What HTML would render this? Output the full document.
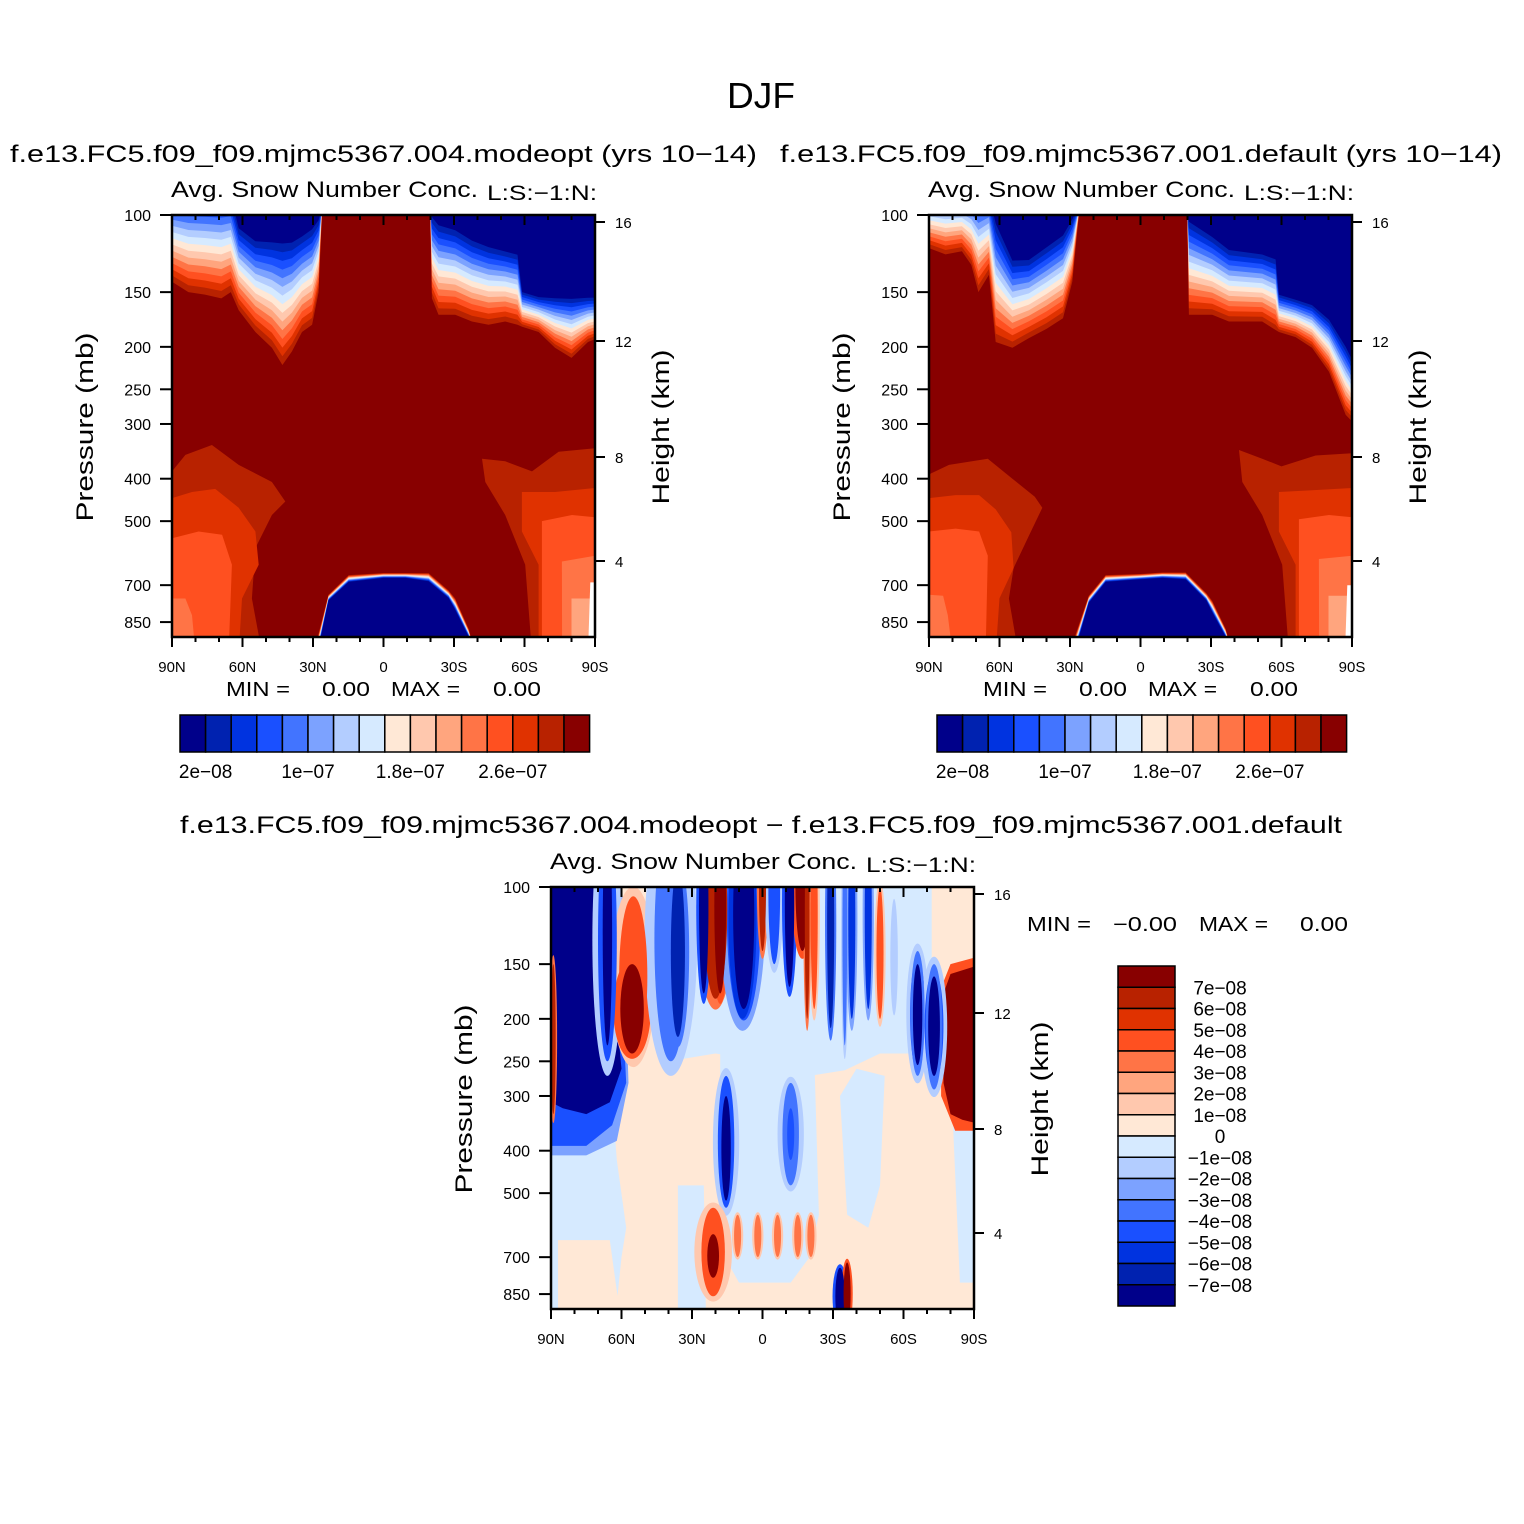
<!DOCTYPE html>
<html><head><meta charset="utf-8">
<style>
html,body{margin:0;padding:0;background:#fff;}
svg{display:block;font-family:"Liberation Sans",sans-serif;}
text{fill:#000;white-space:pre;}
</style></head>
<body>
<svg id="fig" width="1524" height="1524" viewBox="0 0 1524 1524" xmlns="http://www.w3.org/2000/svg">
<rect width="1524" height="1524" fill="#fff"/>
<text x="727" y="108" font-size="36" textLength="68" lengthAdjust="spacingAndGlyphs">DJF</text>
<text x="10" y="162" font-size="24" textLength="747" lengthAdjust="spacingAndGlyphs">f.e13.FC5.f09_f09.mjmc5367.004.modeopt (yrs 10−14)</text>
<text x="780" y="162" font-size="24" textLength="722" lengthAdjust="spacingAndGlyphs">f.e13.FC5.f09_f09.mjmc5367.001.default (yrs 10−14)</text>
<text x="180" y="833" font-size="24" textLength="1162" lengthAdjust="spacingAndGlyphs">f.e13.FC5.f09_f09.mjmc5367.004.modeopt − f.e13.FC5.f09_f09.mjmc5367.001.default</text>
<g id="layer"></g>
</svg>
<script>
const NS="http://www.w3.org/2000/svg";
const COLORS=["#00008a","#0022b0","#0033e0","#1a50ff","#4274ff","#7ca2ff","#b3cdff","#d6eaff","#ffe8d6","#ffc8ae","#ffa57e","#ff7446","#ff5020","#e03200","#b82200","#880000"];
const cbarLabelsTop=["2e−08","1e−07","1.8e−07","2.6e−07"];
const cbarLabelIdxTop=[1,5,9,13];
const cbarLabelsDiff=["7e−08","6e−08","5e−08","4e−08","3e−08","2e−08","1e−08","0","−1e−08","−2e−08","−3e−08","−4e−08","−5e−08","−6e−08","−7e−08"];
const latTicks=[90,60,30,0,-30,-60,-90];
const latTickLabels=["90N","60N","30N","0","30S","60S","90S"];
const presTicks=[100,150,200,250,300,400,500,700,850];
const heightTicks=[16,12,8,4];
const heightTickOffsets=[7,126,242,346];

// ---- Panel 1 data (lat, pressure mb) ----
const p1TLlat=[90,83,76,69,65,61.6,54.5,47.5,43,39,34.7,30.4,27.6,26.2];
const p1TLouter=[142,150,152,155,150,165,185,201,220,205,185,178,150,100];
const p1TLinner=[87,87,87,87,87,104,111,111,111,111,108,104,100,95];
const p1TRlat=[-19.9,-20.6,-23.4,-30.5,-37.6,-44.7,-51.8,-57,-59,-66,-73,-80,-87,-90];
const p1TRouter=[100,155,169,169,175,178,175,178,180,185,201,212,195,192];
const p1TRinner=[95,98,102,105,111,115,118,120,148,152,152,152,152,152];
const p1Dlat=[31,28,23.4,14.8,0,-9.3,-19.2,-27.7,-30.5,-36.2,-39];
const p1Douter=[1000,920,736,664,657,657,657,720,751,880,1000];
const p1Dinner=[1000,1000,760,690,675,675,688,751,800,920,1000];
const p1Bands=[
 [14,[[90,385],[84.3,353],[73,335],[61.6,372],[47.5,407],[41.8,451],[47.5,484],[54.5,576],[56,751],[51.7,1000],[90,1000]]],
 [13,[[90,443],[81.5,429],[71.6,422],[61.6,466],[54.5,528],[53.1,629],[60.2,751],[61.6,1000],[90,1000]]],
 [12,[[90,547],[78.7,528],[68.7,537],[64.5,629],[65.9,1000],[90,1000]]],
 [11,[[90,751],[84.3,751],[81.5,820],[80,1000],[90,1000]]],
 [14,[[-41.9,360],[-51.8,365],[-63.2,385],[-74.5,347],[-90,341],[-90,1000],[-63.2,1000],[-60.3,629],[-51.8,484],[-43.3,407]]],
 [13,[[-58.9,429],[-73,429],[-90,420],[-90,1000],[-66,1000],[-66,629],[-58.9,528]]],
 [12,[[-67.4,500],[-80.2,484],[-90,490],[-90,1000],[-67.4,1000]]],
 [11,[[-75.9,618],[-90,600],[-90,1000],[-76,1000]]],
 [10,[[-80,751],[-90,751],[-90,1000],[-80,1000]]],
 [-1,[[-88,690],[-90,690],[-90,1000],[-87,1000]]]
];
// ---- Panel 2 data ----
const p2TLlat=[90,83,76,72,69,64.5,61.6,54.5,47.5,40,33,29,26.2];
const p2TLouter=[119,123,121,130,150,137,195,201,191,182,172,142,100];
const p2TLinner=[87,87,87,87,87,87,100,123,123,115,108,100,95];
const p2TRlat=[-19.9,-20.6,-30.5,-37.6,-51.8,-57.5,-58.9,-66,-73,-80.2,-87.3,-90];
const p2TRouter=[100,169,169,175,175,183,185,190,201,228,286,296];
const p2TRinner=[95,100,109,117,120,123,150,154,158,170,195,209];
const p2Dlat=[31,28,22,14.8,0,-9.3,-19.2,-28,-30.5,-36.2,-39];
const p2Douter=[1000,920,740,664,660,655,655,730,760,880,1000];
const p2Dinner=[1000,1000,770,690,680,675,680,760,810,920,1000];
const p2Bands=[
 [14,[[90,391],[81.5,372],[65,360],[54.5,400],[45,440],[41.8,466],[47.5,540],[54,640],[56,751],[52,1000],[90,1000]]],
 [13,[[90,443],[78.7,436],[68.7,436],[61.6,470],[55,530],[54,640],[60,750],[61.6,1000],[90,1000]]],
 [12,[[90,528],[78.7,520],[68.7,528],[65,600],[65.9,1000],[90,1000]]],
 [11,[[90,736],[84,740],[82,820],[80,1000],[90,1000]]],
 [14,[[-41.9,344],[-51.8,360],[-60,375],[-74.5,354],[-90,350],[-90,1000],[-63.2,1000],[-60.3,629],[-51.8,484],[-43.3,407]]],
 [13,[[-58.9,429],[-73,425],[-90,420],[-90,1000],[-66,1000],[-66,629],[-58.9,528]]],
 [12,[[-67.4,495],[-80.2,484],[-90,490],[-90,1000],[-67.4,1000]]],
 [11,[[-75.9,610],[-90,600],[-90,1000],[-76,1000]]],
 [10,[[-80,740],[-90,740],[-90,1000],[-80,1000]]],
 [-1,[[-88,700],[-90,700],[-90,1000],[-87,1000]]]
];
// ---- Panel 3 (difference) data ----
const diffPolys=[
 [7,[[90,300],[64,300],[62,420],[58,600],[60,700],[63,1000],[90,1000]]],
 [8,[[87,640],[65,640],[60,1000],[87,1000]]],
 [7,[[42,90],[-72,90],[-72,240],[-50,240],[-35,262],[-20,270],[0,250],[20,240],[40,250]]],
 [7,[[18,240],[-22,240],[-24,560],[-20,700],[-12,800],[10,800],[16,700],[18,500]]],
 [7,[[36,480],[25,480],[24,1000],[36,1000]]],
 [7,[[-33,300],[-40,260],[-52,270],[-50,480],[-45,600],[-36,560]]],
 [7,[[-81,340],[-90,340],[-90,800],[-84,800]]],
 [5,[[90,90],[60,90],[57,280],[62,380],[75,410],[90,410]]],
 [3,[[90,90],[62,90],[59,220],[58,280],[64,350],[75,390],[90,390]]],
 [0,[[90,90],[64,90],[62,200],[60,260],[65,310],[75,330],[85,320],[90,310]]],
 [12,[[-76,170],[-80,150],[-90,145],[-90,360],[-82,360],[-76,300]]],
 [15,[[-77,175],[-80,158],[-90,152],[-90,345],[-85,340],[-80,330],[-77,280]]]
];
// stripes: [lat centre, half-width deg, p top, p bottom, level]
const diffStripes=[
 [89,1,150,330,14],
 [66,4,70,250,3],[66,2,70,230,0],
 [55,6,105,245,12],[55.5,5,150,240,15],
 [39,7,70,250,4],[36,3,90,220,1],
 [20,5,70,180,14],[18,2.5,70,175,15],[25,2,70,175,0],
 [8.5,6,70,200,2],[8,4.5,70,190,0],
 [0,1.5,70,140,14],[-5,2.5,70,150,3],[-11.5,2,70,169,0],
 [-17,3,70,140,15],[-22,1.5,70,190,12],[-19,1,70,200,14],
 [-29,1.5,70,210,1],[-35,1,70,230,4],[-38,1.5,70,200,2],[-45,1.5,70,190,2],[-50,1.5,100,200,12],[-56,1,110,190,6],
 [-66,3,140,270,4],[-66,2,150,255,0],[-73,3.5,150,290,4],[-73,2.5,160,270,0],
 [15.5,3.5,270,540,3],[15.5,2,300,520,0],
 [-12,3.5,280,480,4],[-12,1.5,320,420,3],
 [21,5,540,860,12],[21,2.5,620,780,15],
 [10.6,1.5,560,700,11],[2,1.5,560,700,11],[-6.4,1.5,560,700,11],[-15,1.5,560,700,11],[-20.6,1.5,560,700,11],
 [-33,2,740,1000,0],[-36,1.5,720,1000,15]
];

const layer=document.getElementById('layer');
function mk(tag,attrs,parent){const e=document.createElementNS(NS,tag);for(const k in attrs)e.setAttribute(k,attrs[k]);(parent||layer).appendChild(e);return e;}

function makeAxes(L,T){
 const W=423,H=422;
 return {L,T,W,H,
  x:lat=>L+(90-lat)/180*W,
  y:p=>T+438*Math.log10(p/100)};
}
function polyStr(ax,pts){return pts.map(q=>ax.x(q[0]).toFixed(1)+","+ax.y(q[1]).toFixed(1)).join(" ");}

function gradientRegion(ax,g,lats,outer,inner,fromTop,name){
 for(let k=0;k<15;k++){
  const f=k/15;
  const curve=lats.map((la,i)=>[la,Math.pow(10,Math.log10(outer[i])+(Math.log10(inner[i])-Math.log10(outer[i]))*f)]);
  const endP=fromTop?60:1200;
  const pts=[[lats[0],endP]].concat(curve).concat([[lats[lats.length-1],endP]]);
  const el=mk('polygon',{points:polyStr(ax,pts),fill:COLORS[14-k]},g);
  
  
 }
}

function txt(str,attrs,name){
 const t=mk('text',attrs);
 t.textContent=str;
 
 
 return t;
}

function drawFrame(ax,pid){
 const {L,T,W,H}=ax;
 const fr=mk('rect',{x:L,y:T,width:W,height:H,fill:'none',stroke:'#000','stroke-width':2.5});
 
 
 for(let lat=90;lat>=-90;lat-=10){
  const major=(lat%30===0);const len=major?10:5;
  const xx=ax.x(lat);
  const t1=mk('line',{x1:xx,y1:T+H,x2:xx,y2:T+H+len,stroke:'#000','stroke-width':2});
  
  
  const t2=mk('line',{x1:xx,y1:T,x2:xx,y2:T+len,stroke:'#000','stroke-width':2});
  
  
 }
 latTicks.forEach((lat,i)=>{
  txt(latTickLabels[i],{x:ax.x(lat),y:T+H+35,'font-size':15,'text-anchor':'middle'},pid+'-x-tick-label');
 });
 presTicks.forEach(p=>{
  const yy=ax.y(p);
  const tk=mk('line',{x1:L-12,y1:yy,x2:L,y2:yy,stroke:'#000','stroke-width':2});
  
  
  txt(String(p),{x:L-21,y:yy+6,'font-size':16,'text-anchor':'end'},pid+'-y-tick-label');
 });
 heightTicks.forEach((h,i)=>{
  const yy=T+heightTickOffsets[i];
  const tk=mk('line',{x1:L+W,y1:yy,x2:L+W+10,y2:yy,stroke:'#000','stroke-width':2});
  
  
  txt(String(h),{x:L+W+20,y:yy+6,'font-size':15},pid+'-height-tick-label');
 });
 txt("Pressure (mb)",{x:0,y:0,'font-size':24,'text-anchor':'middle',textLength:189,lengthAdjust:'spacingAndGlyphs',transform:`translate(${L-79},${T+212}) rotate(-90)`},pid+'-y-axis-title');
 txt("Height (km)",{x:0,y:0,'font-size':24,'text-anchor':'middle',textLength:155,lengthAdjust:'spacingAndGlyphs',transform:`translate(${L+W+74},${T+212}) rotate(-90)`},pid+'-right-axis-title');
 txt("Avg. Snow Number Conc.",{x:L-1,y:T-18,'font-size':22,textLength:307,lengthAdjust:'spacingAndGlyphs'},pid+'-subtitle');
 txt("L:S:−1:N:",{x:L+315,y:T-15,'font-size':21,textLength:110,lengthAdjust:'spacingAndGlyphs'},pid+'-units-label');
}

function clipGroup(ax,pid){
 const defs=mk('defs',{});
 const cp=mk('clipPath',{id:'clip-'+pid},defs);
 mk('rect',{x:ax.L,y:ax.T,width:ax.W,height:ax.H},cp);
 const g=mk('g',{'clip-path':`url(#clip-${pid})`});
 
 
 return g;
}

function drawMean(pid,L,T,TLl,TLo,TLi,TRl,TRo,TRi,Dl,Do,Di,bands){
 const ax=makeAxes(L,T);
 const g=clipGroup(ax,pid);
 const bg=mk('rect',{x:L,y:T,width:ax.W,height:ax.H,fill:COLORS[15]},g);
 
 
 bands.forEach(b=>{
  const el=mk('polygon',{points:polyStr(ax,b[1]),fill:b[0]<0?'#ffffff':COLORS[b[0]]},g);
  
  
 });
 gradientRegion(ax,g,TLl,TLo,TLi,true,pid+'-upper-left');
 gradientRegion(ax,g,TRl,TRo,TRi,true,pid+'-upper-right');
 gradientRegion(ax,g,Dl,Do,Di,false,pid+'-surface-dome');
 drawFrame(ax,pid);
 txt("MIN =",{x:L+54,y:T+481,'font-size':20,textLength:64,lengthAdjust:'spacingAndGlyphs'},pid+'-min-label');
 txt("0.00",{x:L+150,y:T+481,'font-size':20,textLength:48,lengthAdjust:'spacingAndGlyphs'},pid+'-min-value');
 txt("MAX =",{x:L+219,y:T+481,'font-size':20,textLength:69,lengthAdjust:'spacingAndGlyphs'},pid+'-max-label');
 txt("0.00",{x:L+321,y:T+481,'font-size':20,textLength:48,lengthAdjust:'spacingAndGlyphs'},pid+'-max-value');
 const cx=L+8,cy=T+500,bw=25.6,bh=37;
 for(let i=0;i<16;i++){
  const r=mk('rect',{x:cx+i*bw,y:cy,width:bw,height:bh,fill:COLORS[i],stroke:'#000','stroke-width':1.5});
  
  
 }
 cbarLabelsTop.forEach((s,i)=>{
  txt(s,{x:cx+cbarLabelIdxTop[i]*bw,y:cy+63,'font-size':19,'text-anchor':'middle'},pid+'-colorbar-label');
 });
}

drawMean('panel1',172,215,p1TLlat,p1TLouter,p1TLinner,p1TRlat,p1TRouter,p1TRinner,p1Dlat,p1Douter,p1Dinner,p1Bands);
drawMean('panel2',929,215,p2TLlat,p2TLouter,p2TLinner,p2TRlat,p2TRouter,p2TRinner,p2Dlat,p2Douter,p2Dinner,p2Bands);

(function(){
 const pid='panel3';
 const ax=makeAxes(551,887);
 const g=clipGroup(ax,pid);
 const bg=mk('rect',{x:ax.L,y:ax.T,width:ax.W,height:ax.H,fill:COLORS[8]},g);
 
 
 diffPolys.forEach(b=>{
  const el=mk('polygon',{points:polyStr(ax,b[1]),fill:COLORS[b[0]]},g);
  
  
 });
 diffStripes.forEach(s=>{
  const xc=ax.x(s[0]);const rx=Math.abs(ax.x(s[0]+s[1])-xc);
  const y1=ax.y(s[2]),y2=ax.y(s[3]);
  const haloLevel=s[4]<8?Math.min(s[4]+3,6):Math.max(s[4]-3,9);
  const h=mk('ellipse',{cx:xc,cy:(y1+y2)/2,rx:rx*1.6,ry:(y2-y1)/2*1.12,fill:COLORS[haloLevel]},g);
  
  
 });
 diffStripes.forEach(s=>{
  const xc=ax.x(s[0]);const rx=Math.abs(ax.x(s[0]+s[1])-xc);
  const y1=ax.y(s[2]),y2=ax.y(s[3]);
  const el=mk('ellipse',{cx:xc,cy:(y1+y2)/2,rx:rx,ry:(y2-y1)/2,fill:COLORS[s[4]]},g);
  
  
 });
 drawFrame(ax,pid);
 txt("MIN =",{x:1027,y:931,'font-size':20,textLength:64,lengthAdjust:'spacingAndGlyphs'},pid+'-min-label');
 txt("−0.00",{x:1113,y:931,'font-size':20,textLength:64,lengthAdjust:'spacingAndGlyphs'},pid+'-min-value');
 txt("MAX =",{x:1199,y:931,'font-size':20,textLength:69,lengthAdjust:'spacingAndGlyphs'},pid+'-max-label');
 txt("0.00",{x:1300,y:931,'font-size':20,textLength:48,lengthAdjust:'spacingAndGlyphs'},pid+'-max-value');
 const cx=1118,cy=966,bw=57,bh=21.25;
 for(let i=0;i<16;i++){
  const r=mk('rect',{x:cx,y:cy+i*bh,width:bw,height:bh,fill:COLORS[15-i],stroke:'#000','stroke-width':1.5});
  
  
 }
 cbarLabelsDiff.forEach((s,i)=>{
  txt(s,{x:1220,y:cy+(i+1)*bh+7,'font-size':19,'text-anchor':'middle'},pid+'-colorbar-label');
 });
})();
</script>
</body></html>
